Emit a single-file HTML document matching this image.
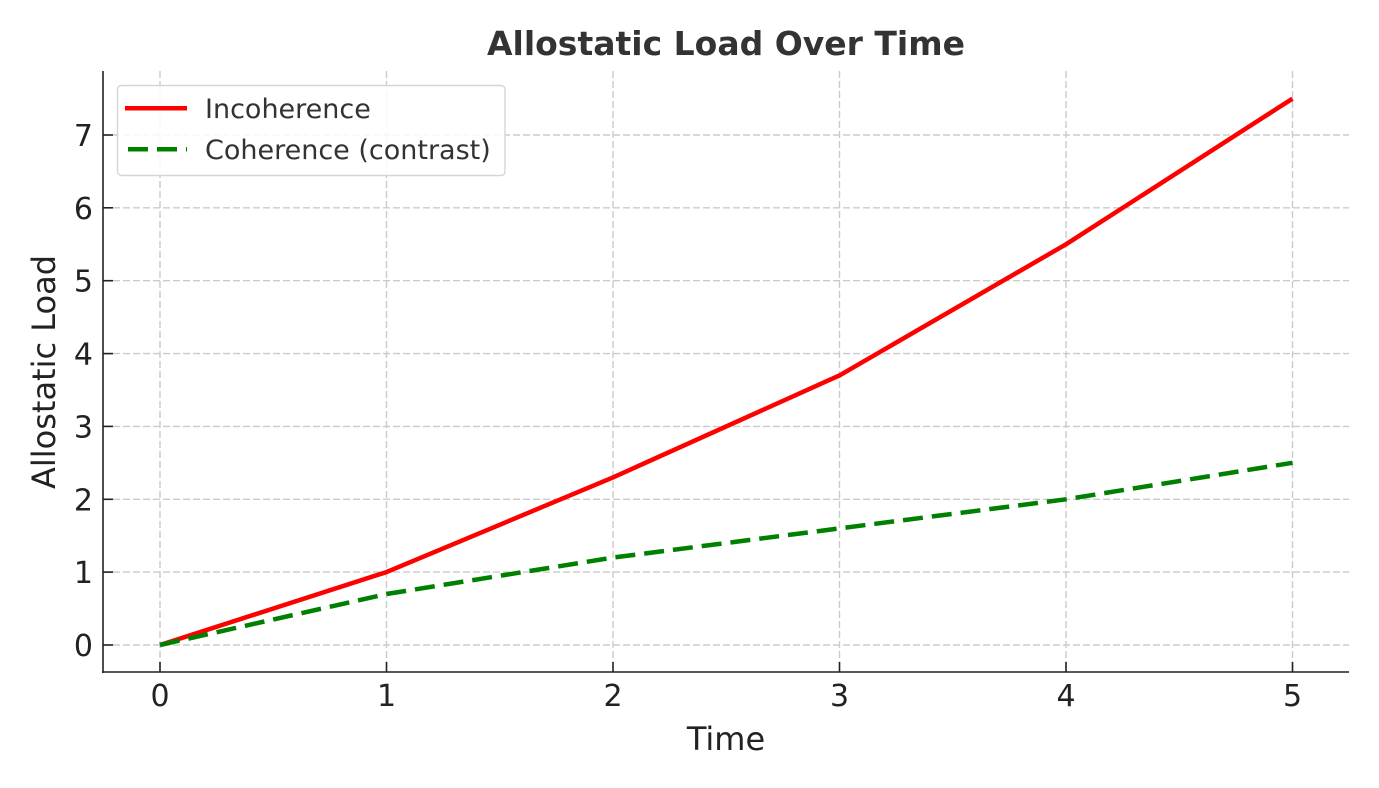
<!DOCTYPE html>
<html><head><meta charset="utf-8"><style>
html,body{margin:0;padding:0;background:#fff;}
svg{display:block;}
text{font-family:"DejaVu Sans","Liberation Sans",sans-serif;}
</style></head><body>
<svg width="1379" height="788" viewBox="0 0 1379 788" xmlns="http://www.w3.org/2000/svg">
<rect width="1379" height="788" fill="#fff"/>
<g stroke="#cbcbcb" stroke-width="1.4" stroke-dasharray="7,3" fill="none">
<line x1="160" y1="71" x2="160" y2="672"/>
<line x1="386.5" y1="71" x2="386.5" y2="672"/>
<line x1="613" y1="71" x2="613" y2="672"/>
<line x1="839.5" y1="71" x2="839.5" y2="672"/>
<line x1="1066" y1="71" x2="1066" y2="672"/>
<line x1="1292.5" y1="71" x2="1292.5" y2="672"/>
<line x1="103" y1="645" x2="1349" y2="645"/>
<line x1="103" y1="572.1" x2="1349" y2="572.1"/>
<line x1="103" y1="499.3" x2="1349" y2="499.3"/>
<line x1="103" y1="426.4" x2="1349" y2="426.4"/>
<line x1="103" y1="353.6" x2="1349" y2="353.6"/>
<line x1="103" y1="280.7" x2="1349" y2="280.7"/>
<line x1="103" y1="207.8" x2="1349" y2="207.8"/>
<line x1="103" y1="135" x2="1349" y2="135"/>
</g>
<polyline points="160,645 386.5,572.1 613,477.4 839.5,375.4 1066,244.3 1292.5,98.6" fill="none" stroke="#ff0000" stroke-width="4.5" stroke-linejoin="round"/>
<polyline points="160,645 386.5,594 613,557.6 839.5,528.4 1066,499.3 1292.5,462.8" fill="none" stroke="#008000" stroke-width="4.5" stroke-dasharray="20,9"/>
<g stroke="#222" stroke-width="1.6">
<line x1="103" y1="71" x2="103" y2="673"/>
<line x1="102" y1="672" x2="1349" y2="672"/>
<line x1="160" y1="672" x2="160" y2="662"/>
<line x1="386.5" y1="672" x2="386.5" y2="662"/>
<line x1="613" y1="672" x2="613" y2="662"/>
<line x1="839.5" y1="672" x2="839.5" y2="662"/>
<line x1="1066" y1="672" x2="1066" y2="662"/>
<line x1="1292.5" y1="672" x2="1292.5" y2="662"/>
<line x1="103" y1="645" x2="113" y2="645"/>
<line x1="103" y1="572.1" x2="113" y2="572.1"/>
<line x1="103" y1="499.3" x2="113" y2="499.3"/>
<line x1="103" y1="426.4" x2="113" y2="426.4"/>
<line x1="103" y1="353.6" x2="113" y2="353.6"/>
<line x1="103" y1="280.7" x2="113" y2="280.7"/>
<line x1="103" y1="207.8" x2="113" y2="207.8"/>
<line x1="103" y1="135" x2="113" y2="135"/>
</g>
<g fill="#222" font-size="30" text-anchor="middle">
<text x="160" y="706">0</text>
<text x="386.5" y="706">1</text>
<text x="613" y="706">2</text>
<text x="839.5" y="706">3</text>
<text x="1066" y="706">4</text>
<text x="1292.5" y="706">5</text>
</g>
<g fill="#222" font-size="30" text-anchor="end">
<text x="93" y="656">0</text>
<text x="93" y="583.1">1</text>
<text x="93" y="510.3">2</text>
<text x="93" y="437.4">3</text>
<text x="93" y="364.6">4</text>
<text x="93" y="291.7">5</text>
<text x="93" y="218.8">6</text>
<text x="93" y="146">7</text>
</g>
<text x="726" y="55" fill="#333" font-size="33" font-weight="bold" text-anchor="middle">Allostatic Load Over Time</text>
<text x="726" y="750" fill="#222" font-size="32" text-anchor="middle">Time</text>
<text transform="translate(55,372) rotate(-90)" fill="#222" font-size="32" text-anchor="middle">Allostatic Load</text>
<rect x="117.5" y="85.5" width="387.5" height="90" rx="4" ry="4" fill="#fff" fill-opacity="0.85" stroke="#d6d6d6" stroke-width="1.4"/>
<line x1="125" y1="108.3" x2="187" y2="108.3" stroke="#ff0000" stroke-width="4.5"/>
<line x1="128" y1="149.3" x2="187" y2="149.3" stroke="#008000" stroke-width="4.5" stroke-dasharray="20,9"/>
<text x="205" y="118" fill="#333" font-size="27">Incoherence</text>
<text x="205" y="159" fill="#333" font-size="27">Coherence (contrast)</text>
</svg>
</body></html>
